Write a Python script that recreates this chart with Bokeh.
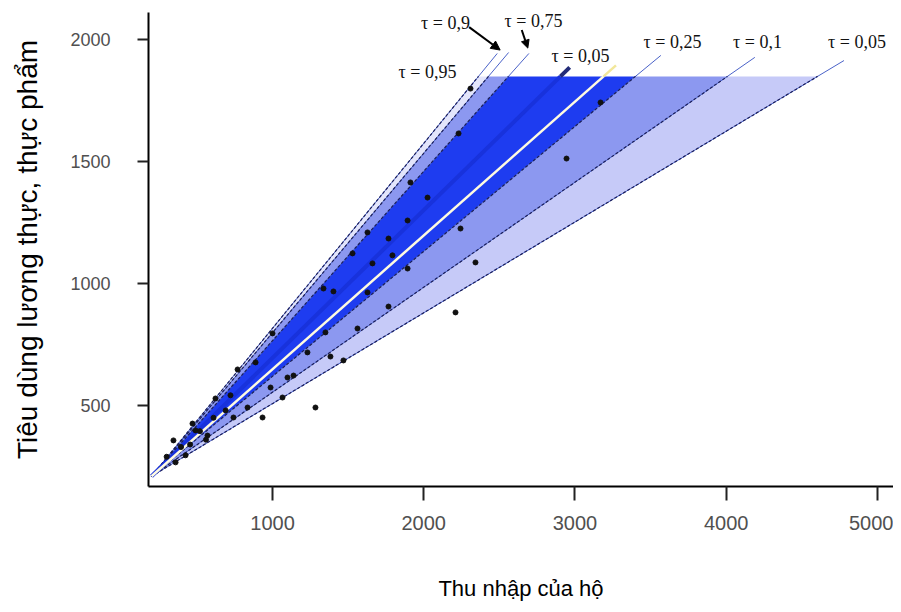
from bokeh.plotting import figure
from bokeh.models import Range1d, FixedTicker, Label, Arrow, NormalHead
from bokeh.embed import file_html
from bokeh.resources import INLINE

# ---------------- data ----------------
# common starting point of all fitted quantile lines (income, food expenditure)
origin_income = 200
origin_food = 210
cap_food = 1850            # shaded bands are cut off at this expenditure

# quantile lines: income where each line reaches cap_food, and where the drawn line ends
line_names = ["0,95", "0,9", "0,75", "ols", "median", "0,25", "0,1", "0,05"]
line_income_at_cap = [2362, 2428, 2560, 2904, 3189, 3400, 4008, 4604]
line_end_food = [1944, 1948, 1944, 1887, 1895, 1936, 1928, 1915]

# shaded bands between quantile lines (indices into the lists above)
band_pairs = [(0, 1), (1, 2), (2, 5), (5, 6), (6, 7)]
band_colors = ["#e3e5fb", "#8c98f0", "#1e3cf0", "#8c98f0", "#c6caf8"]

# households: income, food expenditure
income = [2309, 2230, 1912, 2025, 1628, 1893, 1767, 1529, 1793, 1661, 2243, 2342,
          1893, 1337, 1403, 1628, 3169, 2944, 2210, 1767, 1562, 1350, 1231, 1383,
          1469, 1000, 888, 769, 623, 471, 345, 1099, 1139, 987, 1066, 835, 934,
          1284, 742, 570, 359, 425, 722, 491, 300, 395, 520, 610, 690, 560, 455]
food = [1800, 1616, 1415, 1353, 1210, 1259, 1185, 1124, 1116, 1083, 1226, 1087,
        1062, 980, 968, 964, 1743, 1513, 882, 906, 816, 800, 718, 701,
        685, 796, 677, 648, 529, 426, 357, 615, 623, 574, 533, 492, 451,
        492, 451, 377, 267, 296, 542, 398, 290, 330, 395, 450, 480, 360, 340]

x_ticks = [1000, 2000, 3000, 4000, 5000]
y_ticks = [500, 1000, 1500, 2000]

label_texts = ["τ = 0,95", "τ = 0,9", "τ = 0,75", "τ = 0,05", "τ = 0,25", "τ = 0,1", "τ = 0,05"]

# ---------------- layout ----------------
label_pos = [(2025, 1866), (2144, 2067), (2726, 2079), (3036, 1932),
             (3645, 1989), (4207, 1989), (4865, 1989)]

p = figure(width=893, height=610, output_backend="svg", toolbar_location=None,
           x_range=Range1d(180, 5106), y_range=Range1d(168, 2112),
           min_border_left=148, min_border_right=0, min_border_top=12,
           min_border_bottom=124)
p.outline_line_color = None
p.xgrid.visible = False
p.ygrid.visible = False
p.background_fill_color = "white"
p.border_fill_color = "white"

# bands
xs = [[origin_income, line_income_at_cap[a], line_income_at_cap[b]] for a, b in band_pairs]
ys = [[origin_food, cap_food, cap_food] for _ in band_pairs]
p.patches(xs, ys, fill_color=band_colors, line_color=None)


def end_x(i):
    return origin_income + (line_income_at_cap[i] - origin_income) * \
        (line_end_food[i] - origin_food) / (cap_food - origin_food)


quant_idx = [0, 1, 2, 5, 6, 7]
# thin blue continuation lines
p.segment(x0=[origin_income] * len(quant_idx), y0=[origin_food] * len(quant_idx),
          x1=[end_x(i) for i in quant_idx], y1=[line_end_food[i] for i in quant_idx],
          line_color="#4a62c8", line_width=1)
# dashed dark lines inside the bands
p.segment(x0=[origin_income] * len(quant_idx), y0=[origin_food] * len(quant_idx),
          x1=[line_income_at_cap[i] for i in quant_idx], y1=[cap_food] * len(quant_idx),
          line_color="#1c1f5a", line_width=1.2, line_dash="3 2")

# OLS-like thick line
i = 3
p.line([origin_income, line_income_at_cap[i]], [origin_food, cap_food],
       line_color="#1832dc", line_width=4)
p.line([line_income_at_cap[i], end_x(i)], [cap_food, line_end_food[i]],
       line_color="#232c78", line_width=4)

# median line
i = 4
p.line([origin_income, line_income_at_cap[i]], [origin_food, cap_food],
       line_color="#fffbe0", line_width=2.5)
p.line([line_income_at_cap[i], end_x(i)], [cap_food, line_end_food[i]],
       line_color="#f2e79a", line_width=2.5)

# points
p.scatter(income, food, size=5, color="#111111")

# labels
for t, (lx, ly) in zip(label_texts, label_pos):
    p.add_layout(Label(x=lx, y=ly, text=t, text_font="Liberation Serif",
                       text_font_size="18px", text_color="#111111",
                       text_align="center", text_baseline="middle"))

p.add_layout(Arrow(end=NormalHead(size=9, fill_color="black", line_color="black"),
                   x_start=2300, y_start=2052, x_end=2505, y_end=1958,
                   line_width=2, line_color="black"))
p.add_layout(Arrow(end=NormalHead(size=8, fill_color="black", line_color="black"),
                   x_start=2648, y_start=2040, x_end=2688, y_end=1966,
                   line_width=2, line_color="black"))

# axes
for ax in (p.xaxis[0], p.yaxis[0]):
    ax.axis_line_color = "black"
    ax.axis_line_width = 2
    ax.major_tick_line_color = "#222222"
    ax.major_tick_line_width = 2
    ax.minor_tick_line_color = None
    ax.major_tick_in = 0
    ax.major_label_text_color = "#505050"
    ax.major_label_text_font = "Liberation Sans"
    ax.axis_label_text_font = "Liberation Sans"
    ax.axis_label_text_font_style = "normal"
    ax.axis_label_text_color = "black"

p.xaxis.ticker = FixedTicker(ticks=x_ticks)
p.yaxis.ticker = FixedTicker(ticks=y_ticks)
p.xaxis.major_tick_out = 14
p.xaxis.major_label_standoff = 15
p.xaxis.major_label_text_font_size = "20px"
p.xaxis.axis_label = "Thu nhập của hộ"
p.xaxis.axis_label_text_font_size = "22px"
p.xaxis.axis_label_standoff = 43

p.yaxis.major_tick_out = 11
p.yaxis.major_label_standoff = 27
p.yaxis.major_label_text_font_size = "18px"
p.yaxis.axis_label = "Tiêu dùng lương thực, thực phẩm"
p.yaxis.axis_label_text_font_size = "28px"
p.yaxis.axis_label_standoff = 24

open("out.html", "w").write(file_html(p, INLINE))
